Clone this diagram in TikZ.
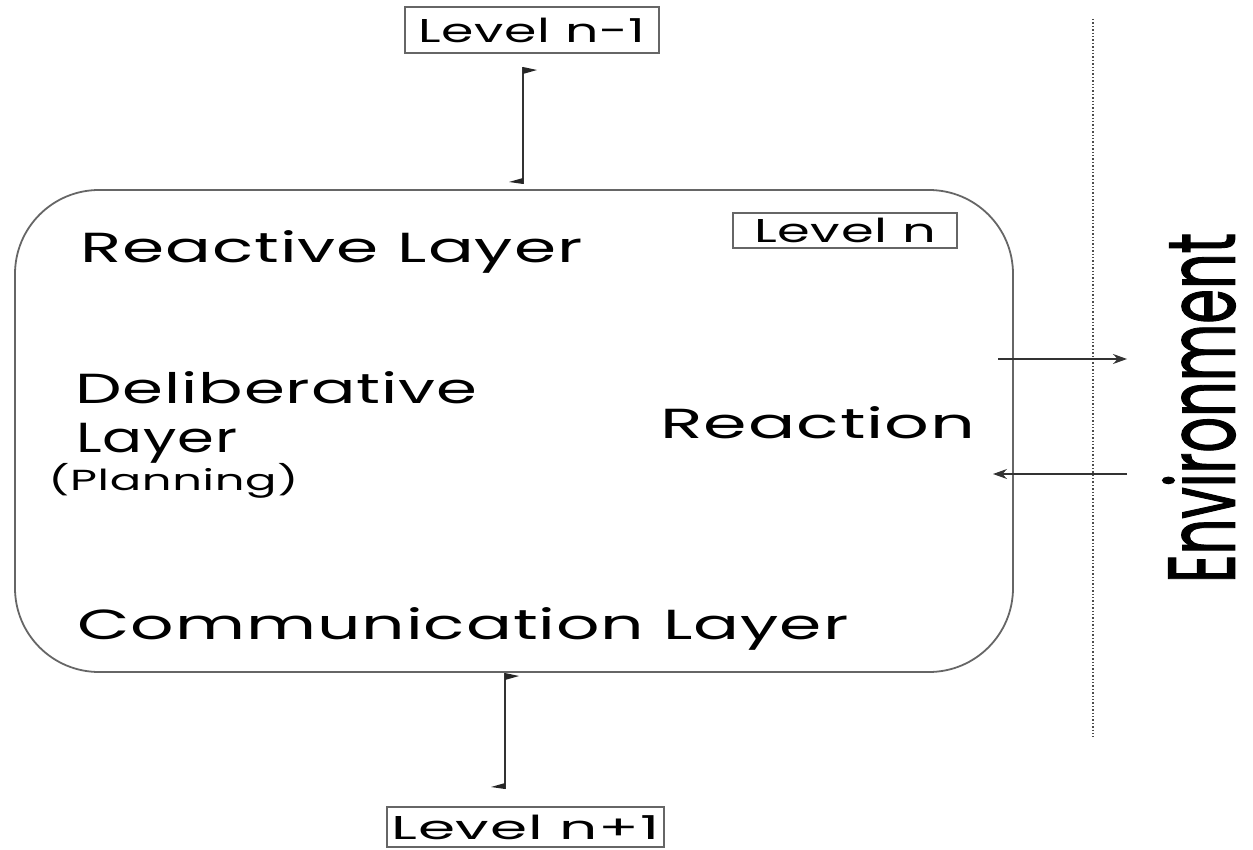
\documentclass[tikz,border=0pt]{standalone}
\usepackage{fontspec}
\setmainfont{Poppins}[FakeStretch=1.45, LetterSpace=2]
\usetikzlibrary{arrows.meta}
\newcommand{\mywide}[2]{\resizebox{#1}{\height}{#2}}
\tikzset{
  lvlbox/.style={draw=black!60, line width=0.9pt, inner sep=0pt, font=\fontsize{16.5}{18}\selectfont},
  bigtxt/.style={anchor=base west, inner sep=0pt, font=\fontsize{21}{24}\selectfont},
  smalltxt/.style={anchor=base west, inner sep=0pt, font=\fontsize{14.5}{17}\selectfont},
  conn/.style={draw=black!80, line width=0.7pt},
  flag/.style={fill=black!85},
  sidearrow/.style={draw=black!80, line width=0.6pt, -{Stealth[length=7pt,width=5pt]}}
}
\begin{document}
\begin{tikzpicture}[x=0.5pt,y=-0.5pt]
\useasboundingbox (0,0) rectangle (1253,850);
% main box
\draw[black!60, line width=0.9pt, rounded corners=42pt] (15,190) rectangle (1013,672);
% level boxes
\node[lvlbox, minimum width=127pt, minimum height=23pt] (lnm) at (532,30) {\mywide{113.5pt}{Level n-1}};
\node[lvlbox, minimum width=112pt, minimum height=17.5pt] (ln) at (845,230.5) {\mywide{91pt}{Level n}};
\node[lvlbox, minimum width=138.5pt, minimum height=20pt] (lnp) at (525.5,827) {\mywide{134pt}{Level n+1}};
% top connector
\coordinate (ta) at (523,67);
\coordinate (tb) at (523,184);
\draw[conn] (ta) -- (tb);
\fill[flag] (ta) -- ++(14,3) -- ++(-14,4) -- cycle;
\fill[flag] (tb) -- ++(-14,-2) -- ++(14,-4) -- cycle;
% bottom connector
\coordinate (ba) at (505,673);
\coordinate (bb) at (505,789);
\draw[conn] (ba) -- (bb);
\fill[flag] (ba) -- ++(14,3) -- ++(-14,4) -- cycle;
\fill[flag] (bb) -- ++(-14,-2) -- ++(14,-4) -- cycle;
% environment
\coordinate (d1) at (1093,19);
\coordinate (d2) at (1093,737);
\draw[black!70, line width=0.7pt, densely dotted] (d1) -- (d2);
\coordinate (r1) at (998,359);
\coordinate (r2) at (1127,359);
\coordinate (r3) at (1127,474);
\coordinate (r4) at (993,474);
\draw[sidearrow] (r1) -- (r2);
\draw[sidearrow] (r3) -- (r4);
\node[rotate=90, inner sep=0pt] (env) at (1199,408) {\resizebox{175pt}{36pt}{\addfontfeatures{FakeBold=1.5, LetterSpace=0, FakeStretch=1}Environment}};
% texts
\node[bigtxt] (react) at (80,263) {\mywide{251pt}{Reactive Layer}};
\node[bigtxt] (delib) at (75,403) {\mywide{201pt}{Deliberative}};
\node[bigtxt] (layer) at (76,452) {\mywide{80.5pt}{Layer}};
\node[smalltxt] (plan) at (48,490) {\mywide{125pt}{(Planning)}};
\node[bigtxt] (reaction) at (660,438) {\mywide{157.5pt}{Reaction}};
\node[bigtxt] (comm) at (77,639) {\mywide{385.5pt}{Communication Layer}};
\end{tikzpicture}
\end{document}
